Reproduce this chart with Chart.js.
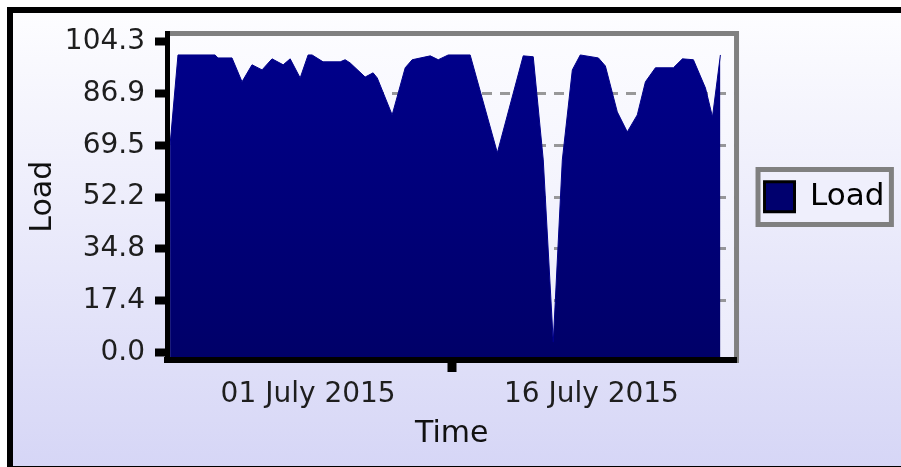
<!DOCTYPE html>
<html>
<head>
<meta charset="utf-8">
<script src="https://cdn.jsdelivr.net/npm/chart.js@4.4.1/dist/chart.umd.min.js"></script>
<style>
  html, body { margin: 0; padding: 0; background: #fff; }
  #frame {
    position: absolute; left: 7px; top: 7px; width: 894px; height: 460px;
    box-sizing: border-box;
    border-top: 6px solid #000; border-left: 6px solid #000; border-bottom: 1px solid #000;
    background: linear-gradient(#fdfdff, #d6d6f6);
  }
  #myChart { position: absolute; left: 0; top: 0; }
</style>
</head>
<body>
<div id="frame"></div>
<canvas id="myChart" width="901" height="467"></canvas>
<script>
'use strict';

// day of July 2015 (below 1 = end of June), load in percent
var days = [-6.31, -5.89, -3.93, -3.77, -3.03, -2.50, -1.97, -1.44, -0.91, -0.32, 0.05, 0.58, 1.00,
            1.21, 1.79, 2.70, 2.96, 3.23, 4.02, 4.44, 4.66, 5.45, 6.14, 6.51, 7.47, 7.89, 8.42,
            9.58, 11.02, 12.39, 12.92, 13.45, 13.98, 14.46, 14.99, 15.41, 16.37, 16.74, 17.37,
            17.90, 18.43, 18.86, 19.39, 20.34, 20.82, 21.40, 22.04, 22.41, 22.83];
var load = [69.6, 99.8, 99.8, 98.8, 98.8, 90.8, 96.5, 94.8, 98.5, 96.5, 98.5, 92.1, 99.8,
            99.8, 97.5, 97.5, 98.2, 97.1, 92.4, 93.8, 92.1, 79.7, 95.5, 98.2, 99.5, 98.2, 99.8,
            99.8, 67.0, 99.5, 99.2, 64.6, 3.5, 64.6, 94.8, 99.8, 98.8, 96.1, 80.7,
            74.0, 79.7, 90.8, 95.5, 95.5, 98.5, 98.2, 88.7, 79.0, 99.8];

var yTicks = [0, 17.38, 34.77, 52.15, 69.53, 86.92, 104.3];
var yTickLabels = ['0.0', '17.4', '34.8', '52.2', '69.5', '86.9', '104.3'];
var xTicks = [1, 8.6, 16];
var xTickLabels = ['01 July 2015', '', '16 July 2015'];

var points = days.map(function(d, i) { return {x: d, y: load[i]}; });

var boxes = {
  id: 'boxes',
  beforeDraw: function(chart) {
    var c = chart.ctx;
    var a = chart.chartArea;
    var g = c.createLinearGradient(0, a.top, 0, a.bottom);
    g.addColorStop(0, '#fcfcff');
    g.addColorStop(1, '#ebebfb');
    c.save();
    c.fillStyle = g;
    c.fillRect(a.left, a.top, a.right - a.left, a.bottom - a.top);
    // frame round the legend
    var hb = chart.legend.legendHitBoxes[0];
    if (hb) {
      var x0 = hb.left - 6.5, y0 = hb.top - 11.75;
      var x1 = hb.left + hb.width + 7, y1 = hb.top + hb.height + 12.25;
      c.fillStyle = '#efeffc';
      c.fillRect(x0, y0, x1 - x0, y1 - y0);
      c.strokeStyle = '#808080';
      c.lineWidth = 5;
      c.strokeRect(x0, y0, x1 - x0, y1 - y0);
    }
    c.restore();
  },
  afterDatasetsDraw: function(chart) {
    var c = chart.ctx;
    var a = chart.chartArea;
    c.save();
    c.strokeStyle = '#808080';
    c.lineWidth = 5;
    c.beginPath();
    c.moveTo(a.left, a.top);
    c.lineTo(a.right, a.top);
    c.lineTo(a.right, a.bottom + 3);
    c.stroke();
    c.restore();
  }
};

var ctx = document.getElementById('myChart').getContext('2d');

var chart = new Chart(ctx, {
  type: 'line',
  data: {
    datasets: [{
      label: 'Load',
      data: points,
      fill: 'start',
      tension: 0,
      pointRadius: 0,
      borderWidth: 1,
      borderColor: '#00008a',
      backgroundColor: function(context) {
        var a = context.chart.chartArea;
        if (!a) return '#000080';
        var g = context.chart.ctx.createLinearGradient(0, a.top, 0, a.bottom);
        g.addColorStop(0, '#00008c');
        g.addColorStop(1, '#000068');
        return g;
      }
    }]
  },
  options: {
    responsive: false,
    animation: false,
    devicePixelRatio: 1,
    layout: { padding: { left: 0, top: 33.5, right: 6.6, bottom: 0 } },
    plugins: {
      tooltip: { enabled: false },
      legend: {
        position: 'right',
        fullSize: false,
        labels: {
          boxWidth: 30,
          boxHeight: 30,
          padding: 28,
          color: '#000',
          font: { family: 'DejaVu Sans', size: 31 },
          generateLabels: function(chart) {
            return [{ text: 'Load', fillStyle: '#00006e', strokeStyle: '#000', lineWidth: 3, hidden: false, datasetIndex: 0 }];
          }
        }
      }
    },
    scales: {
      x: {
        type: 'linear',
        min: -6.472,
        max: 23.684,
        afterFit: function(scale) { scale.height = 107; },
        afterBuildTicks: function(scale) {
          scale.ticks = xTicks.map(function(v) { return {value: v}; });
        },
        ticks: {
          padding: 6,
          maxRotation: 0,
          color: '#1e1e1e',
          font: { family: 'DejaVu Sans', size: 28 },
          callback: function(value, index) { return xTickLabels[index]; }
        },
        grid: {
          display: true,
          drawOnChartArea: false,
          lineWidth: 0,
          tickLength: 12,
          tickWidth: 9,
          tickColor: function(c) { return c.index === 1 ? '#000' : 'rgba(0,0,0,0)'; }
        },
        border: { display: true, color: '#000', width: 6, z: 1 },
        title: {
          display: true,
          text: 'Time',
          color: '#111',
          font: { family: 'DejaVu Sans', size: 30 },
          padding: { top: 0, bottom: 15 }
        }
      },
      y: {
        min: -2.5,
        max: 107,
        afterFit: function(scale) { scale.width = 167; },
        afterBuildTicks: function(scale) {
          scale.ticks = yTicks.map(function(v) { return {value: v}; });
        },
        ticks: {
          padding: 10,
          color: '#1e1e1e',
          font: { family: 'DejaVu Sans', size: 28 },
          callback: function(value, index) { return yTickLabels[index]; }
        },
        grid: {
          lineWidth: 3,
          color: function(c) {
            return (c.index === 0 || c.index === 6) ? 'rgba(0,0,0,0)' : 'rgba(128,128,128,0.8)';
          },
          tickLength: 12,
          tickWidth: 8,
          tickColor: '#000'
        },
        border: { display: true, color: '#000', width: 5, z: 1, dash: [10, 8], dashOffset: 12 },
        title: {
          display: true,
          text: 'Load',
          color: '#111',
          font: { family: 'DejaVu Sans', size: 30 },
          padding: { top: 25, bottom: 0 }
        }
      }
    }
  },
  plugins: [boxes]
});
</script>
</body>
</html>
